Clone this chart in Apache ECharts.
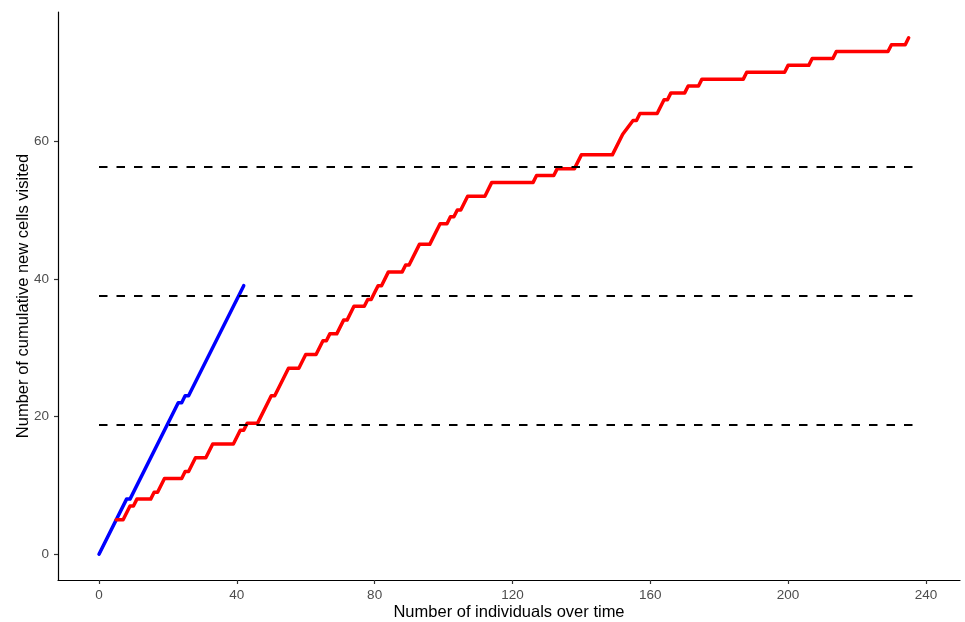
<!DOCTYPE html>
<html>
<head>
<meta charset="utf-8">
<script src="https://cdn.jsdelivr.net/npm/echarts@6/dist/echarts.min.js"></script>
<style>
html, body { margin: 0; padding: 0; background: #fff; }
#chart { width: 965px; height: 622px; }
</style>
</head>
<body>
<div id="chart"></div>
<script>
// ---- data ----
var blueSeries = [[0,0],[8,8],[9,8],[23,22],[24,22],[25,23],[26,23],[42,39]];
var redSeries = [[5,5],[7,5],[9,7],[10,7],[11,8],[15,8],[16,9],[17,9],[19,11],[24,11],[25,12],[26,12],[28,14],[31,14],[33,16],[39,16],[41,18],[42,18],[43,19],[46,19],[50,23],[51,23],[55,27],[58,27],[60,29],[63,29],[65,31],[66,31],[67,32],[69,32],[71,34],[72,34],[74,36],[77,36],[78,37],[79,37],[80,38],[81,39],[82,39],[84,41],[88,41],[89,42],[90,42],[93,45],[96,45],[99,48],[101,48],[102,49],[103,49],[104,50],[105,50],[107,52],[112,52],[114,54],[126,54],[127,55],[132,55],[133,56],[138,56],[140,58],[149,58],[152,61],[155,63],[156,63],[157,64],[162,64],[164,66],[165,66],[166,67],[170,67],[171,68],[174,68],[175,69],[187,69],[188,70],[199,70],[200,71],[206,71],[207,72],[213,72],[214,73],[229,73],[230,74],[234,74],[235,75]];
var thresholds = [18.75, 37.5, 56.25];
var thresholdExtent = [0, 238];
var xTicks = [0, 40, 80, 120, 160, 200, 240];
var yTicks = [0, 20, 40, 60];
var xLimits = [-11.9, 249.9];
var yLimits = [-3.75, 78.75];
var xTitle = 'Number of individuals over time';
var yTitle = 'Number of cumulative new cells visited';

var FONT = 'Liberation Sans, Arial, sans-serif';
var chart = echarts.init(document.getElementById('chart'), null, {renderer: 'canvas'});

var series = [
  {type: 'line', data: blueSeries, showSymbol: false, symbol: 'none', smooth: false,
   lineStyle: {color: '#0000ff', width: 3.5, cap: 'round', join: 'round'}, z: 2, silent: true, animation: false},
  {type: 'line', data: redSeries, showSymbol: false, symbol: 'none', smooth: false,
   lineStyle: {color: '#ff0000', width: 3.5, cap: 'round', join: 'round'}, z: 2, silent: true, animation: false}
];
thresholds.forEach(function (t) {
  series.push({type: 'line', data: thresholdExtent.map(function (x) { return [x, t]; }),
    showSymbol: false, symbol: 'none',
    lineStyle: {color: '#000000', width: 2, type: [8.5, 9], cap: 'butt'}, z: 3, silent: true, animation: false});
});

chart.setOption({
  backgroundColor: '#ffffff',
  animation: false,
  grid: {left: 58, right: 5, top: 12, bottom: 42, containLabel: false, outerBoundsMode: 'none'},
  xAxis: {
    type: 'value', min: xLimits[0], max: xLimits[1],
    name: xTitle, nameLocation: 'middle', nameGap: 24, nameMoveOverlap: false,
    nameTextStyle: {color: '#000', fontSize: 16.5, fontFamily: FONT},
    axisLine: {show: true, onZero: false, lineStyle: {color: '#000', width: 1.2}},
    axisTick: {show: true, length: 4, customValues: xTicks, lineStyle: {color: '#333', width: 1.2}},
    axisLabel: {customValues: xTicks, color: '#4d4d4d', fontSize: 13.5, fontFamily: FONT, margin: 8},
    splitLine: {show: false}
  },
  yAxis: {
    type: 'value', min: yLimits[0], max: yLimits[1],
    name: yTitle, nameLocation: 'middle', nameGap: 26, nameMoveOverlap: false,
    nameTextStyle: {color: '#000', fontSize: 16.5, fontFamily: FONT},
    axisLine: {show: true, onZero: false, lineStyle: {color: '#000', width: 1.2}},
    axisTick: {show: true, length: 4, customValues: yTicks, lineStyle: {color: '#333', width: 1.2}},
    axisLabel: {customValues: yTicks, color: '#4d4d4d', fontSize: 13.5, fontFamily: FONT, margin: 9},
    splitLine: {show: false}
  },
  series: series
});
</script>
</body>
</html>
